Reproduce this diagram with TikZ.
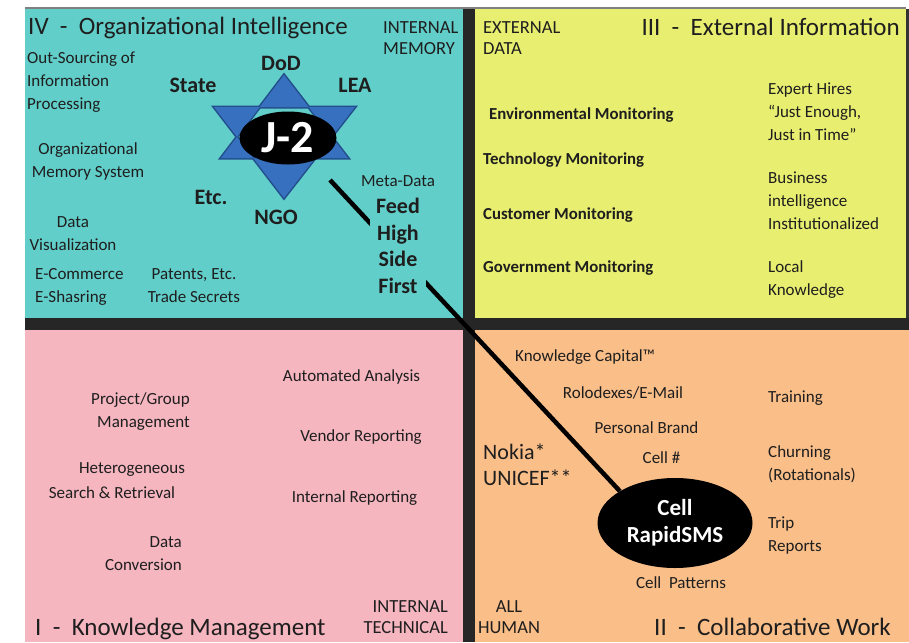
\documentclass[tikz,border=0pt]{standalone}
\usepackage{fontspec}
\setmainfont{Carlito}
\usetikzlibrary{positioning,shapes.geometric}

\definecolor{quadcyan}{RGB}{98,206,201}
\definecolor{quadyellow}{RGB}{232,238,112}
\definecolor{quadpink}{RGB}{246,182,192}
\definecolor{quadorange}{RGB}{250,190,136}
\definecolor{starblue}{RGB}{54,112,190}
\definecolor{stardark}{RGB}{34,78,140}
\definecolor{inkgray}{RGB}{30,30,30}

\pgfdeclarelayer{quads}
\pgfdeclarelayer{links}
\pgfsetlayers{quads,links,main}

\tikzset{
  quadtitle/.style={inner sep=0pt, font=\fontsize{25}{30}\selectfont},
  txt/.style={inner sep=0pt, align=center, font=\fontsize{17}{23}\selectfont},
  monitor/.style={inner sep=0pt, anchor=west, font=\bfseries\fontsize{16.8}{23}\selectfont},
  caps/.style={inner sep=0pt, font=\fontsize{18.5}{21}\selectfont},
  agency/.style={inner sep=0pt, font=\bfseries\fontsize{22}{26}\selectfont},
  blob/.style={ellipse, fill=black, text=white, inner sep=0pt, font=\bfseries},
}

\begin{document}
\begin{tikzpicture}[x=1pt, y=-1pt, text=inkgray]
\useasboundingbox (0,0) rectangle (909,642);

%Quadrants
\begin{pgfonlayer}{quads}
\fill[quadcyan]   (25,9)    rectangle (463,324);
\fill[quadyellow] (475,9)   rectangle (906,324);
\fill[quadpink]   (25,324)  rectangle (463,642);
\fill[quadorange] (475,324) rectangle (909,642);
\fill[black!85]   (463,9)   rectangle (475,642);
\fill[black!85]   (25,318)  rectangle (909,330);
\draw[gray, line width=1.5pt] (25,8) -- (906,8);
\draw[black!80, line width=3pt] (907,9) -- (907,318);
\end{pgfonlayer}

%Star
\draw[stardark, line width=3pt]
    (284,75) -- (348,158) -- (221,158) -- cycle
    (284,198) -- (355,107) -- (214,107) -- cycle;
\fill[starblue]
    (284,75) -- (348,158) -- (221,158) -- cycle
    (284,198) -- (355,107) -- (214,107) -- cycle;

%Nodes
\node[blob, minimum width=97pt, minimum height=53pt, font=\bfseries\fontsize{46}{46}\selectfont] (J2) at (288,138) {J-2};
\node[blob, align=center, minimum width=155pt, minimum height=90pt, font=\bfseries\fontsize{23}{27}\selectfont] (Cell) at (675,523) {Cell\\RapidSMS};
\coordinate (MetaTail) at (330,180);

% IV - cyan
\node[quadtitle, anchor=base west] (TitleIV) at (28,35) {IV\ \ -\ \ Organizational Intelligence};
\node[caps, anchor=west, align=left] (IntMemory) at (383,38.5) {INTERNAL\\MEMORY};
\node[txt, anchor=west, align=left] (OutSourcing) at (27,82) {Out-Sourcing of\\Information\\Processing};
\node[txt] (OrgMemory) at (88,161.5) {Organizational\\Memory System};
\node[txt] (DataVis) at (73,233.5) {Data\\Visualization};
\node[txt, anchor=west, align=left] (ECommerce) at (35,286.5) {E-Commerce\\E-Shasring};
\node[txt] (Patents) at (194,285.5) {Patents, Etc.\\Trade Secrets};
\node[agency] (State) at (193,85)  {State};
\node[agency] (DoD)   at (281,63)  {DoD};
\node[agency] (LEA)   at (355,85)  {LEA};
\node[agency] (Etc)   at (211,197) {Etc.};
\node[agency] (NGO)   at (276,217) {NGO};
\node[agency, align=center, fill=quadcyan, inner xsep=6pt, inner ysep=5pt, font=\bfseries\fontsize{22}{26.7}\selectfont] (Feed) at (398,246) {Feed\\High\\Side\\First};
\node[txt, fill=quadcyan, inner sep=2pt] (MetaData) [above=4pt of Feed] {Meta-Data};

% III - yellow
\node[quadtitle, anchor=base east] (TitleIII) at (900,36) {III\ \ -\ \ External Information};
\node[caps, anchor=west, align=left] (ExtData) at (483,38.5) {EXTERNAL\\DATA};
\node[monitor] (EnvMon)  at (489,115) {Environmental Monitoring};
\node[monitor] (TechMon) at (483,160) {Technology Monitoring};
\node[monitor] (CustMon) at (483,215) {Customer Monitoring};
\node[monitor] (GovMon)  at (483,268) {Government Monitoring};
\node[txt, anchor=west, align=left] (Expert) at (768,111.5) {Expert Hires\\``Just Enough,\\Just in Time''};
\node[txt, anchor=west, align=left] (Business) at (768,201) {Business\\intelligence\\Institutionalized};
\node[txt, anchor=west, align=left] (Local) at (768,279.5) {Local\\Knowledge};

% I - pink
\node[quadtitle, anchor=base west] (TitleI) at (35,635) {I\ \ -\ \ Knowledge Management};
\node[caps, anchor=east, align=right] (IntTech) at (448,617.5) {INTERNAL\\TECHNICAL};
\node[txt] (AutoAnalysis) at (351.5,377) {Automated Analysis};
\node[txt, anchor=east, align=right] (Project) at (190,411.5) {Project/Group\\Management};
\node[txt] (Vendor) at (361,437) {Vendor Reporting};
\node[txt] (Hetero) at (132,470) {Heterogeneous};
\node[txt] (Search) at (112,493) {Search \& Retrieval};
\node[txt] (IntReport) at (354.5,498) {Internal Reporting};
\node[txt, anchor=east, align=right] (DataConv) at (182,554) {Data\\Conversion};

% II - orange
\node[quadtitle, anchor=base east] (TitleII) at (891,635) {II\ \ -\ \ Collaborative Work};
\node[caps, align=center] (AllHuman) at (509,617.5) {ALL\\HUMAN};
\node[txt] (KCapital) at (585,357) {Knowledge Capital™};
\node[txt] (Rolodex) at (623,393) {Rolodexes/E-Mail};
\node[txt] (Brand) at (646.5,428) {Personal Brand};
\node[txt] (CellNo) at (661.5,458) {Cell \#};
\node[txt, anchor=west, align=left, font=\fontsize{22}{26}\selectfont] (Nokia) at (483,465) {Nokia*\\UNICEF**};
\node[txt, anchor=west] (Training) at (768,398) {Training};
\node[txt, anchor=west, align=left] (Churning) at (768,464.5) {Churning\\(Rotationals)};
\node[txt, anchor=west, align=left] (Trip) at (768,536) {Trip\\Reports};
\node[txt] (Patterns) at (681,583) {Cell\ \ Patterns};

%Lines
\begin{pgfonlayer}{links}
\draw[line width=4.5pt] (MetaTail) -- (Cell.150);
\end{pgfonlayer}
\end{tikzpicture}
\end{document}
